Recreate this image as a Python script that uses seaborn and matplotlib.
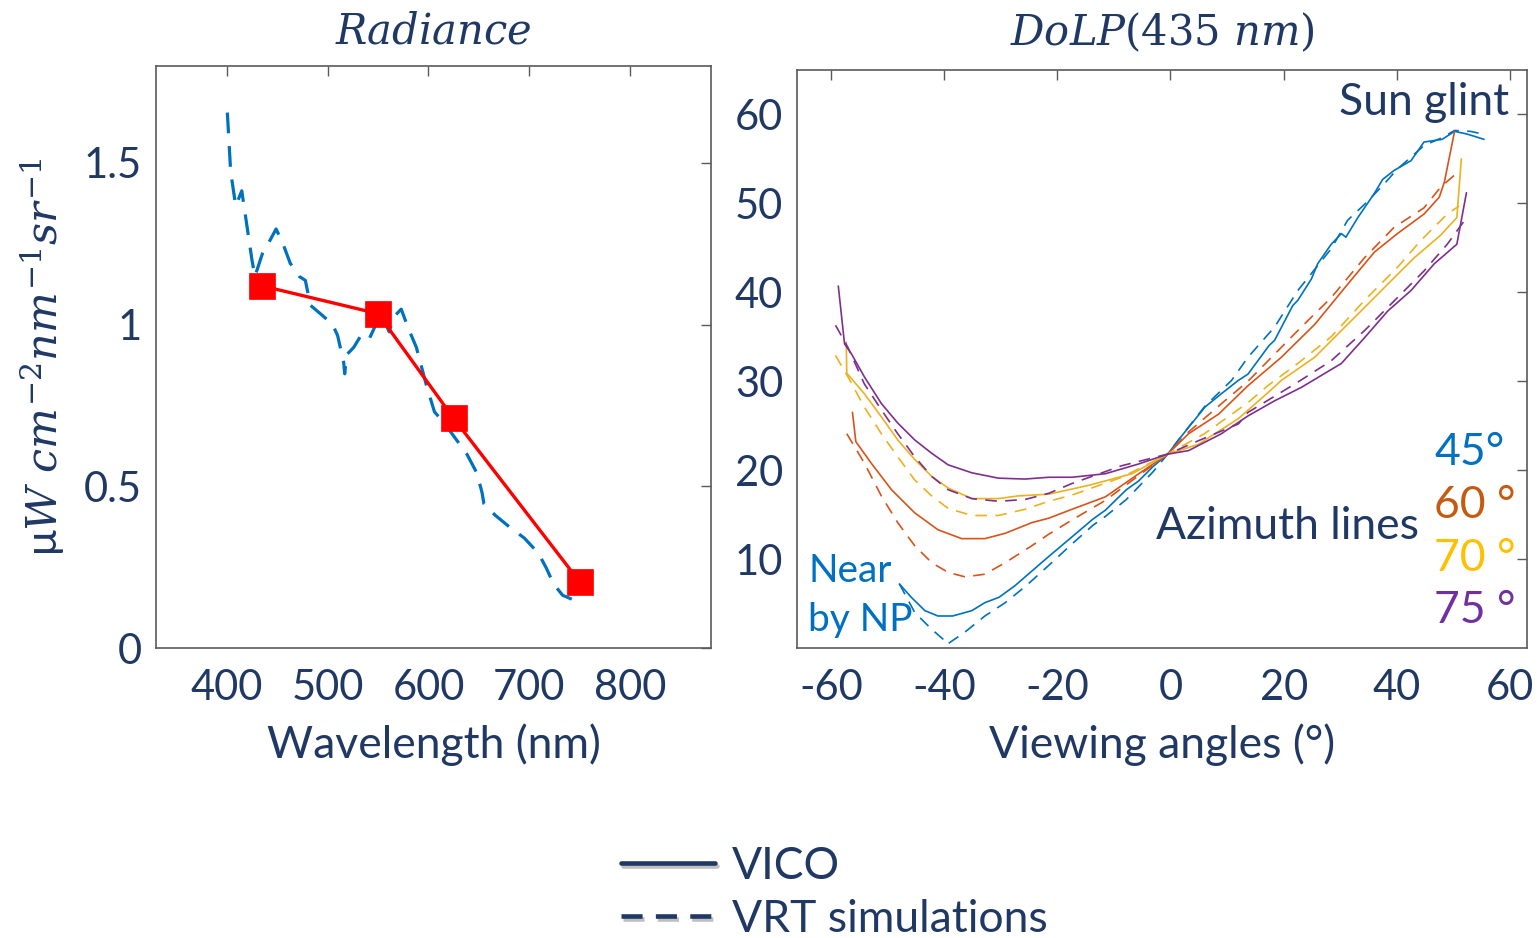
import numpy as np
import pandas as pd
import matplotlib
matplotlib.use("Agg")
import matplotlib.pyplot as plt
import matplotlib.patheffects as pe
from matplotlib.lines import Line2D
import seaborn as sns

# ---------------- data ----------------
# Radiance spectrum: VRT simulation (dashed) and VICO bands (squares)
vrt_wavelength = [400.7, 404, 409, 415, 420, 425, 428, 436, 443, 449, 456, 463, 472,
                  478, 483, 494, 505, 510, 516, 517, 519, 526, 533, 541, 548, 553,
                  561, 566, 573, 580, 588, 598, 606, 613, 620, 627, 638, 648, 653,
                  655, 666, 680, 695, 709, 717, 724, 733, 742]
vrt_radiance = [1.656, 1.473, 1.367, 1.414, 1.308, 1.202, 1.149, 1.225, 1.261, 1.296,
                1.249, 1.19, 1.149, 1.137, 1.06, 1.031, 1.001, 0.966, 0.883, 0.848,
                0.907, 0.93, 0.966, 0.954, 1.001, 1.037, 0.978, 1.025, 1.048, 0.989,
                0.93, 0.812, 0.73, 0.706, 0.677, 0.647, 0.6, 0.541, 0.482, 0.446,
                0.411, 0.375, 0.34, 0.293, 0.246, 0.198, 0.163, 0.151]
vico_wavelength = [435, 550, 625, 750]
vico_radiance = [1.12, 1.034, 0.71, 0.204]

# DoLP at 435 nm versus viewing angle, per azimuth line
ang45_vico = [-47.9, -45.8, -43.4, -41.1, -38.5, -35.1, -32.8, -30.3, -27.5, -25.5, -21.5,
              -17.4, -13.7, -11.5, -7.8, -5.6, -3.1, -0.5, 2.3, 6.1, 9.0, 12.0, 13.7, 17.4,
              18.4, 21.6, 22.5, 24.9, 26.0, 28.4, 30.2, 31.0, 33.1, 36.0, 37.5, 39.5, 42.5,
              44.8, 48.0, 50.2, 52.4, 55.4]
dolp45_vico = [7.2, 5.7, 4.2, 3.6, 3.6, 4.2, 5.1, 5.7, 7.0, 8.1, 10.3,
               12.5, 14.5, 15.5, 17.8, 18.8, 20.4, 21.8, 24.1, 27.1, 28.6, 30.1, 30.8, 34.0,
               34.6, 38.5, 39.1, 41.5, 43.2, 45.4, 46.6, 46.2, 48.4, 51.1, 52.7, 53.7, 54.8,
               56.9, 57.2, 58.1, 57.8, 57.2]
ang45_vrt = [-47.9, -45.2, -42.2, -40.2, -39.5, -36.3, -32.8, -29.2, -25.5, -21.5, -17.4,
             -13.7, -11.5, -7.8, -3.1, -0.5, 1.4, 6.1, 10.8, 13.7, 18.4, 22.5, 28.4, 31.3,
             34.3, 37.5, 40.0, 44.8, 48.0, 50.2, 53.0, 55.9]
dolp45_vrt = [7.2, 4.0, 2.1, 1.0, 0.4, 1.8, 3.6, 5.1, 7.0, 9.3, 11.7,
              13.8, 14.8, 16.7, 19.8, 21.8, 23.4, 27.2, 30.1, 32.7, 36.1, 40.2, 44.9, 48.1,
              49.9, 52.0, 53.8, 56.5, 57.4, 58.2, 58.1, 57.7]

ang60_vico = [-56.2, -55.6, -52.9, -49.3, -45.2, -41.1, -36.9, -32.8, -29.2, -24.5, -21.5,
              -17.4, -11.5, -5.6, -0.5, 3.2, 8.5, 13.7, 19.6, 25.5, 31.3, 36.0, 40.1, 44.8,
              47.5, 48.4, 50.2]
dolp60_vico = [26.5, 23.2, 20.8, 17.8, 15.2, 13.3, 12.3, 12.3, 12.9, 14.1, 14.6,
               15.6, 17.0, 19.6, 21.8, 24.1, 26.3, 29.5, 32.7, 36.4, 40.9, 44.5, 46.6, 48.8,
               50.7, 52.4, 58.1]
ang60_vrt = [-57.2, -54.1, -51.1, -48.2, -45.2, -42.2, -39.3, -36.3, -32.8, -29.2, -24.5,
             -21.5, -17.4, -11.5, -5.6, -0.5, 3.2, 9.6, 13.7, 22.5, 28.4, 34.3, 39.5, 44.8,
             47.7, 50.4]
dolp60_vrt = [24.1, 20.8, 17.1, 14.1, 11.5, 9.6, 8.5, 8.0, 8.3, 9.6, 11.5,
              12.8, 14.4, 16.6, 19.4, 21.8, 24.3, 27.8, 30.0, 35.7, 39.4, 43.9, 47.3, 49.5,
              51.8, 53.3]

ang70_vico = [-57.3, -57.2, -54.1, -51.1, -48.2, -45.2, -42.2, -39.3, -35.1, -30.4, -27.0,
              -21.5, -14.4, -6.8, -0.5, 4.9, 12.0, 17.2, 19.6, 25.5, 30.2, 34.3, 39.0, 43.1,
              47.7, 50.6, 51.4]
dolp70_vico = [34.4, 30.9, 28.6, 26.0, 23.4, 21.2, 19.3, 18.0, 16.8, 16.8, 17.1,
               17.3, 18.3, 19.6, 21.8, 22.9, 25.8, 28.7, 30.1, 32.7, 35.7, 38.3, 41.3, 43.9,
               46.4, 48.4, 55.0]
ang70_vrt = [-59.2, -57.0, -54.1, -51.1, -48.2, -45.2, -42.2, -39.3, -35.1, -30.4, -25.7,
             -21.5, -17.4, -8.6, -0.5, 6.0, 13.7, 17.2, 22.5, 28.4, 34.3, 40.1, 44.2, 48.9,
             51.0]
dolp70_vrt = [32.9, 30.5, 27.1, 24.1, 21.5, 18.9, 17.1, 15.7, 14.9, 14.9, 15.6,
              16.5, 17.2, 19.2, 21.8, 24.1, 27.6, 29.5, 32.0, 35.0, 39.1, 42.8, 45.8, 48.8,
              49.7]

ang75_vico = [-58.7, -57.6, -56.4, -54.1, -51.1, -48.2, -45.2, -42.2, -39.3, -35.1, -30.4,
              -25.7, -21.5, -17.4, -11.5, -5.6, -0.5, 3.2, 9.0, 13.7, 18.4, 23.1, 30.2, 34.3,
              38.4, 42.5, 46.6, 50.6, 52.3]
dolp75_vico = [40.7, 34.2, 33.1, 30.5, 27.5, 25.3, 23.4, 21.9, 20.6, 19.7, 19.1,
               19.0, 19.2, 19.2, 19.6, 20.7, 21.8, 22.2, 24.1, 26.1, 27.8, 29.3, 32.0, 34.9,
               37.9, 40.2, 43.2, 45.4, 51.2]
ang75_vrt = [-59.2, -57.0, -54.1, -51.1, -48.2, -45.2, -42.2, -39.3, -35.1, -30.4, -25.7,
             -21.5, -17.4, -8.6, -0.5, 4.9, 12.0, 13.7, 22.5, 28.4, 34.3, 40.1, 44.8, 48.9,
             52.1]
dolp75_vrt = [36.3, 33.8, 29.7, 26.8, 24.1, 21.5, 19.3, 17.8, 16.8, 16.5, 16.7,
              17.4, 18.5, 20.5, 21.8, 23.3, 25.2, 26.5, 29.9, 32.3, 35.7, 39.4, 42.4, 45.4,
              48.2]

azimuths = ["45°", "60 °", "70 °", "75 °"]
sources = ["VICO", "VRT simulations"]

left_xticks = [400, 500, 600, 700, 800]
left_yticks = [0, 0.5, 1, 1.5]
left_yticklabels = ["0", "0.5", "1", "1.5"]
right_xticks = [-60, -40, -20, 0, 20, 40, 60]
right_yticks = [10, 20, 30, 40, 50, 60]

# ---------------- style ----------------
NAVY = "#1F3864"
FRAME = "#5a5a5a"
line_colors = {"45°": "#0072BD", "60 °": "#D95319", "70 °": "#EDB120", "75 °": "#7E2F8E"}
label_colors = {"45°": "#0070C0", "60 °": "#C55A11", "70 °": "#FFC000", "75 °": "#7030A0"}

sns.set_theme(style="white")
plt.rcParams["font.family"] = ["Lato", "DejaVu Sans"]
plt.rcParams["mathtext.fontset"] = "dejavuserif"
plt.rcParams["axes.unicode_minus"] = False

fig = plt.figure(figsize=(15.39, 9.38), dpi=100)
ax1 = fig.add_axes([156 / 1539, 1 - 648 / 938, 555 / 1539, 582 / 938])
ax2 = fig.add_axes([797 / 1539, 1 - 648 / 938, 730 / 1539, 578 / 938])

# ---------------- left: radiance ----------------
sns.lineplot(x=vrt_wavelength, y=vrt_radiance, ax=ax1, color="#0072BD", lw=2.3,
             linestyle=(0, (6.5, 4)), sort=False, estimator=None)
sns.lineplot(x=vico_wavelength, y=vico_radiance, ax=ax1, color="red", lw=2.4,
             marker="s", markersize=18.5, markeredgecolor="red", markeredgewidth=0.5,
             sort=False, estimator=None)
ax1.set_xlim(330, 880)
ax1.set_ylim(0, 1.8)
ax1.set_xticks(left_xticks)
ax1.set_yticks(left_yticks)
ax1.set_yticklabels(left_yticklabels)
ax1.set_xlabel("Wavelength (nm)", fontsize=32, color=NAVY, labelpad=12)
ax1.set_ylabel(r"μ$W\ cm^{-2}nm^{-1}sr^{-1}$", fontsize=31, color=NAVY, labelpad=12)
ax1.set_title(r"$Radiance$", fontsize=30, color=NAVY, pad=16)

# ---------------- right: DoLP ----------------
frames = []
for az, (a_v, d_v, a_s, d_s) in zip(azimuths, [
        (ang45_vico, dolp45_vico, ang45_vrt, dolp45_vrt),
        (ang60_vico, dolp60_vico, ang60_vrt, dolp60_vrt),
        (ang70_vico, dolp70_vico, ang70_vrt, dolp70_vrt),
        (ang75_vico, dolp75_vico, ang75_vrt, dolp75_vrt)]):
    frames.append(pd.DataFrame({"angle": a_v, "dolp": d_v, "azimuth": az, "source": sources[0]}))
    frames.append(pd.DataFrame({"angle": a_s, "dolp": d_s, "azimuth": az, "source": sources[1]}))
dolp_df = pd.concat(frames, ignore_index=True)

sns.lineplot(data=dolp_df, x="angle", y="dolp", hue="azimuth", style="source",
             hue_order=azimuths, style_order=sources, palette=line_colors,
             dashes={"VICO": "", "VRT simulations": (7, 5)}, lw=1.2,
             estimator=None, sort=False, legend=False, ax=ax2)
ax2.set_xlim(-66, 63)
ax2.set_ylim(0, 65)
ax2.set_xticks(right_xticks)
ax2.set_yticks(right_yticks)
ax2.set_xlabel("Viewing angles (°)", fontsize=32, color=NAVY, labelpad=12)
ax2.set_ylabel("")
ax2.set_title(r"$DoLP(435\ nm)$", fontsize=30, color=NAVY, pad=18)

for ax in (ax1, ax2):
    ax.tick_params(direction="in", length=7, width=1, colors=FRAME, labelcolor=NAVY,
                   labelsize=30, top=True, right=True)
    ax.tick_params(axis="x", pad=15)
    ax.tick_params(axis="y", pad=10)
    for sp in ax.spines.values():
        sp.set_color(FRAME)
        sp.set_linewidth(1.2)
    ax.grid(False)

# annotations
ax2.text(59.8, 61.3, "Sun glint", fontsize=32, color=NAVY, ha="right", va="center")
ax2.text(-2.5, 13.7, "Azimuth lines", fontsize=32, color=NAVY, ha="left", va="center")
ax2.text(-64.0, 8.7, "Near", fontsize=28, color="#0070C0", ha="left", va="center")
ax2.text(-64.0, 3.1, "by NP", fontsize=28, color="#0070C0", ha="left", va="center")
for az, y in zip(azimuths, [22.0, 16.0, 10.1, 4.2]):
    ax2.text(46.6, y, az, fontsize=32, color=label_colors[az], ha="left", va="center")

# shared line-style key
shadow = [pe.SimpleLineShadow(offset=(1.5, -1.5), shadow_color="gray", alpha=0.5), pe.Normal()]
handles = [Line2D([], [], color=NAVY, lw=3.3, ls="-", path_effects=shadow),
           Line2D([], [], color=NAVY, lw=3.3, ls=(0, (4.6, 2.9)), path_effects=shadow)]
fig.legend(handles, sources, loc="center left", bbox_to_anchor=(621 / 1539, 1 - 893 / 938),
           frameon=False, fontsize=32, labelcolor=NAVY, handlelength=2.12,
           handletextpad=0.38, labelspacing=0.27, borderpad=0, borderaxespad=0)

fig.savefig("out.png", dpi=100, facecolor="white")
